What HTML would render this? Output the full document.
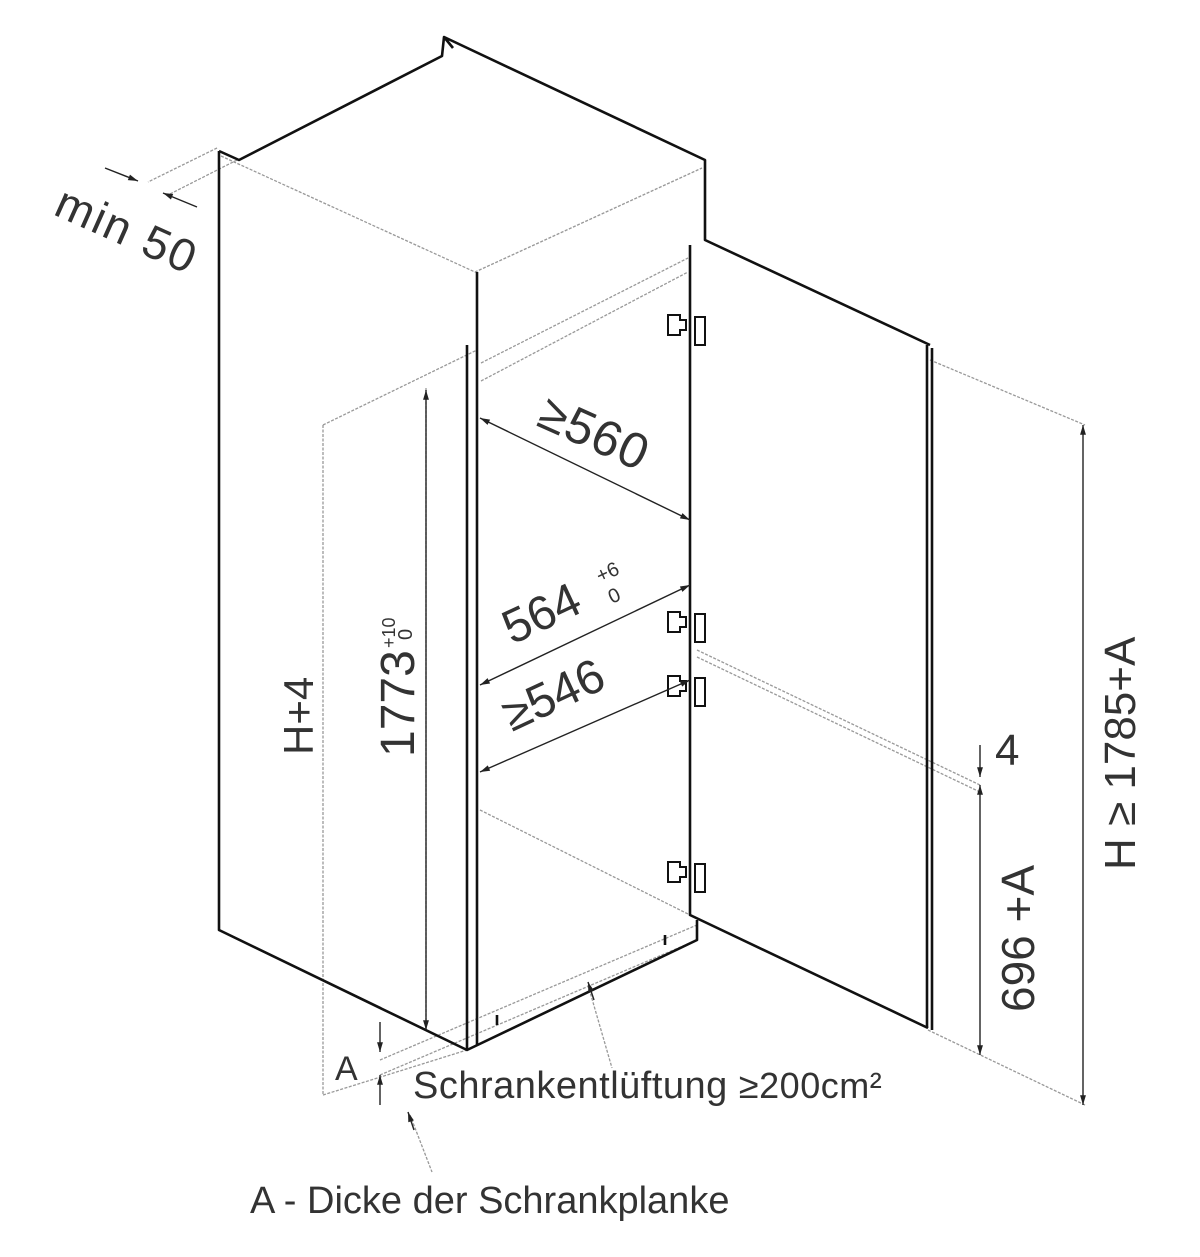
<!DOCTYPE html>
<html><head><meta charset="utf-8"><style>
html,body{margin:0;padding:0;background:#fff}
svg{display:block}
text{font-family:"Liberation Sans",sans-serif;fill:#333}
</style></head><body>
<svg width="1200" height="1257" viewBox="0 0 1200 1257" xmlns="http://www.w3.org/2000/svg">
<defs>
<marker id="ar" viewBox="0 0 10 10" refX="10" refY="5" markerWidth="9" markerHeight="7" orient="auto-start-reverse"><path d="M0,2 L10,5 L0,8 z" fill="#222"/></marker>
</defs>
<g stroke="#999" stroke-width="1.3" fill="none" stroke-dasharray="3,1.5">
<path d="M221,156 L475,272 L702,168"/>
<path d="M217,148 L148,182 M237,160 L168,195"/>
<path d="M481,363 L688,258 M481,381 L688,272"/>
<path d="M323,425 L477,350"/>
<path d="M323,425 L323,1095 M323,1095 L467,1050"/>
<path d="M426,388 L426,1030"/>
<path d="M930,360 L1085,425 M928,1030 L1085,1105"/>
<path d="M697,650 L980,785 M697,657 L980,792"/>
<path d="M480,810 L690,915"/>
<path d="M380,1060 L697,925 M380,1075 L697,940"/>
<path d="M588,985 L612,1068 M410,1115 L432,1172"/>
</g>
<g stroke="#111" stroke-width="2.6" fill="none" stroke-linejoin="round">
<path d="M219,151 L219,930 L467,1050 L697,940 L697,920"/>
<path d="M219,151 L239,160 L442,56 L444,37 L453,48 M444,37 L705,160 L705,240 L930,345"/>
<path d="M467,345 L467,1050 M477,272 L477,1045"/>
<path d="M690,245 L690,915 L928,1028"/>
<path d="M927,345 L927,1028 M932,348 L932,1030"/>
<path d="M497,1025 L497,1015 M665,935 L665,945"/>
</g>
<g stroke="#111" stroke-width="2" fill="#fff">
<g transform="translate(0,325)"><path d="M668,-10 h12 v5 h6 v10 h-6 v5 h-12 z"/><rect x="695" y="-8" width="10" height="28"/></g>
<g transform="translate(0,622)"><path d="M668,-10 h12 v5 h6 v10 h-6 v5 h-12 z"/><rect x="695" y="-8" width="10" height="28"/></g>
<g transform="translate(0,686)"><path d="M668,-10 h12 v5 h6 v10 h-6 v5 h-12 z"/><rect x="695" y="-8" width="10" height="28"/></g>
<g transform="translate(0,872)"><path d="M668,-10 h12 v5 h6 v10 h-6 v5 h-12 z"/><rect x="695" y="-8" width="10" height="28"/></g>
</g>
<g stroke="#222" stroke-width="1.4" fill="none">
<path d="M480,418 L690,520" marker-start="url(#ar)" marker-end="url(#ar)"/>
<path d="M480,685 L690,585" marker-start="url(#ar)" marker-end="url(#ar)"/>
<path d="M480,772 L690,680" marker-start="url(#ar)" marker-end="url(#ar)"/>
<path d="M426,390 L426,1030" marker-start="url(#ar)" marker-end="url(#ar)"/>
<path d="M1083,425 L1083,1105" marker-start="url(#ar)" marker-end="url(#ar)"/>
<path d="M980,785 L980,1055" marker-start="url(#ar)" marker-end="url(#ar)"/>
<path d="M980,745 L980,777" marker-end="url(#ar)"/>
<path d="M380,1022 L380,1052" marker-end="url(#ar)"/>
<path d="M380,1105 L380,1075" marker-end="url(#ar)"/>
<path d="M105,168 L138,181" marker-end="url(#ar)"/>
<path d="M197,207 L163,193" marker-end="url(#ar)"/>
<path d="M594,1000 L588,982" marker-end="url(#ar)"/>
<path d="M414,1130 L408,1112" marker-end="url(#ar)"/>
</g>
<text transform="translate(52,214) rotate(24)" font-size="46" letter-spacing="2">min 50</text>
<text transform="translate(535,425) rotate(24)" font-size="50" letter-spacing="1">≥560</text>
<text transform="translate(512,645) rotate(-25)" font-size="48">564</text>
<text transform="translate(600,583) rotate(-25)" font-size="20">+6</text>
<text transform="translate(612,604) rotate(-25)" font-size="20">0</text>
<text transform="translate(414,757) rotate(-90)" font-size="48">1773</text>
<text transform="translate(395,648) rotate(-90)" font-size="18">+10</text>
<text transform="translate(412,640) rotate(-90)" font-size="20">0</text>
<text transform="translate(512,732) rotate(-25)" font-size="48">≥546</text>
<text transform="translate(313,755) rotate(-90)" font-size="42">H+4</text>
<text x="995" y="765" font-size="44">4</text>
<text transform="translate(1034,1012) rotate(-90)" font-size="46">696 +A</text>
<text transform="translate(1135,870) rotate(-90)" font-size="44">H ≥ 1785+A</text>
<text x="335" y="1080" font-size="34">A</text>
<text x="413" y="1098" font-size="38" letter-spacing="0.5">Schrankentlüftung <tspan font-size="36">≥200cm²</tspan></text>
<text x="250" y="1213" font-size="38">A -  Dicke der Schrankplanke</text>
</svg>
</body></html>
